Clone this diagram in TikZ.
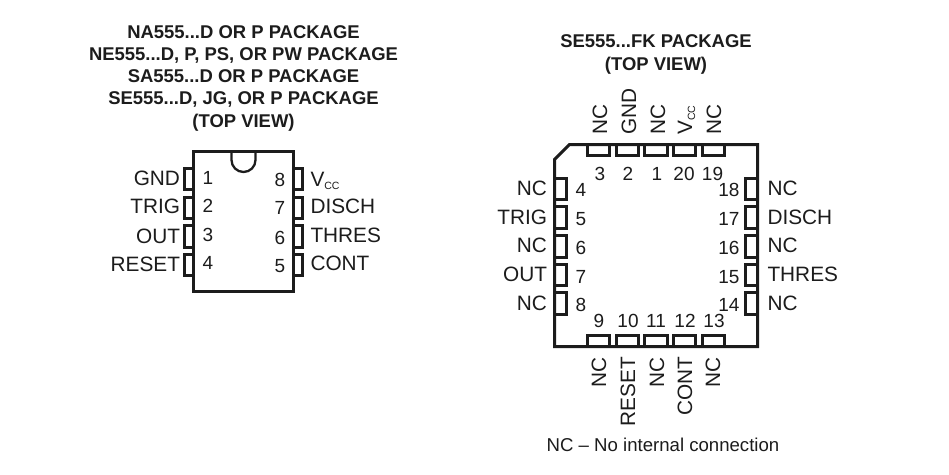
\documentclass[tikz,border=0pt]{standalone}
\usepackage{fontspec}
\setmainfont{Liberation Sans}
\definecolor{ink}{HTML}{1C1C1C}
\newcommand{\lblsize}{\fontsize{20.8}{22}\selectfont}
\newcommand{\numsize}{\fontsize{19}{20}\selectfont}
\newcommand{\ttlsize}{\fontsize{18.45}{22}\selectfont\bfseries}
\newcommand{\vcclabel}{V\raisebox{-3pt}{\fontsize{10.5}{11}\selectfont CC}}
\tikzset{
  body/.style={draw=ink,line width=3pt,line join=miter},
  pin/.style={draw=ink,line width=2.3pt},
  txt/.style={inner sep=0pt,outer sep=0pt,text=ink},
  lbl/.style={txt,font=\lblsize},
  num/.style={txt,font=\numsize},
  ttl/.style={txt,font=\ttlsize,text=ink},
  note/.style={txt,font=\fontsize{18.6}{20}\selectfont}
}
\begin{document}
\begin{tikzpicture}[x=1pt,y=-1pt]
\useasboundingbox[fill=white] (0,0) rectangle (949,474);
% Titles
\node[ttl,anchor=base] (t1) at (243.5,38) {NA555...D OR P PACKAGE};
\node[ttl,anchor=base] (t2) at (243.5,60) {NE555...D, P, PS, OR PW PACKAGE};
\node[ttl,anchor=base] (t3) at (243.5,82) {SA555...D OR P PACKAGE};
\node[ttl,anchor=base] (t4) at (243.5,104) {SE555...D, JG, OR P PACKAGE};
\node[ttl,anchor=base] (t5) at (243.5,127) {(TOP VIEW)};
\node[ttl,anchor=base] (t6) at (656,47) {SE555...FK PACKAGE};
\node[ttl,anchor=base] (t7) at (656,70) {(TOP VIEW)};
% DIP pins
\foreach \a/\b in {168.5/189.5,197.5/218.5,225.5/247.5,254.5/275.5}{
  \draw[pin] (193.5,\a) -- (184.5,\a) -- (184.5,\b) -- (193.5,\b);
  \draw[pin] (293.5,\a) -- (302.5,\a) -- (302.5,\b) -- (293.5,\b);
}
% DIP body
\draw[body] (193.5,151.5) -- (293.5,151.5) -- (293.5,291.5) -- (193.5,291.5) -- cycle;
\draw[draw=ink,line width=2.3pt] (231.5,151.5) -- (231.5,160) arc[start angle=180,end angle=360,radius=12pt] -- (255.5,151.5);
% DIP left labels and numbers
\foreach \n/\t/\bl/\nb in {1/GND/185/184,2/TRIG/213.5/212,3/OUT/243/241.5,4/RESET/271/269}{
  \node[lbl,anchor=base east] (dl\n) at (180,\bl) {\t};
  \node[num,anchor=base] (dn\n) at (208,\nb) {\n};
}
\foreach \n/\bl/\nb in {8/186/186,7/213.5/214,6/242/244,5/270.5/272}{
  \node[num,anchor=base] (dn\n) at (280,\nb) {\n};
}
\node[lbl,anchor=base west] (dl8) at (310.5,186) {\vcclabel};
\node[lbl,anchor=base west] (dl7) at (310.5,213.5) {DISCH};
\node[lbl,anchor=base west] (dl6) at (310.5,242) {THRES};
\node[lbl,anchor=base west] (dl5) at (310.5,270.5) {CONT};
% FK body
\draw[body] (569.5,144.5) -- (757.5,144.5) -- (757.5,346.5) -- (554.5,346.5) -- (554.5,159.5) -- cycle;
% FK pins
\foreach \a/\b in {587.5/609.5,616.5/638.5,644.5/667.5,673.5/695.5,702.5/724.5}{
  \draw[pin] (\a,144.5) -- (\a,155.5) -- (\b,155.5) -- (\b,144.5);
  \draw[pin] (\a,346.5) -- (\a,335.5) -- (\b,335.5) -- (\b,346.5);
}
\foreach \a/\b in {178.5/199.5,206.5/228.5,235.5/257.5,264.5/285.5,292.5/314.5}{
  \draw[pin] (554.5,\a) -- (566.5,\a) -- (566.5,\b) -- (554.5,\b);
  \draw[pin] (757.5,\a) -- (745.5,\a) -- (745.5,\b) -- (757.5,\b);
}
% FK top
\foreach \n/\x in {3/600,2/628,1/657,20/684,19/712.5}{
  \node[num,anchor=base] (fn\n) at (\x,180) {\n};
}
\foreach \n/\t/\x in {3/NC/607,2/GND/636,1/NC/665,19/NC/721}{
  \node[lbl,rotate=90,anchor=base west] (fl\n) at (\x,134.5) {\t};
}
\node[lbl,rotate=90,anchor=base west] (fl20) at (692,134.5) {\vcclabel};
% FK bottom
\foreach \n/\x in {9/599,10/628,11/656,12/685,13/714}{
  \node[num,anchor=base] (fn\n) at (\x,327) {\n};
}
\foreach \n/\t/\x in {9/NC/606,10/RESET/635,11/NC/664,12/CONT/692,13/NC/720}{
  \node[lbl,rotate=90,anchor=base east] (fl\n) at (\x,357) {\t};
}
% FK left
\foreach \n/\t/\y in {4/NC/195,5/TRIG/224,6/NC/252.5,7/OUT/281,8/NC/310.5}{
  \node[lbl,anchor=base east] (fl\n) at (547,\y) {\t};
}
\foreach \n/\y in {4/196.5,5/225.5,6/254.5,7/283,8/311}{
  \node[num,anchor=base] (fn\n) at (581,\y) {\n};
}
% FK right
\foreach \n/\t/\y in {18/NC/195,17/DISCH/224,16/NC/252.5,15/THRES/281,14/NC/310.5}{
  \node[lbl,anchor=base west] (fl\n) at (767.5,\y) {\t};
}
\foreach \n/\y in {18/196.5,17/225,16/254,15/283,14/311}{
  \node[num,anchor=base east] (fn\n) at (739.5,\y) {\n};
}
\node[note,anchor=base] (nc) at (663,451.5) {NC – No internal connection};
\end{tikzpicture}
\end{document}
